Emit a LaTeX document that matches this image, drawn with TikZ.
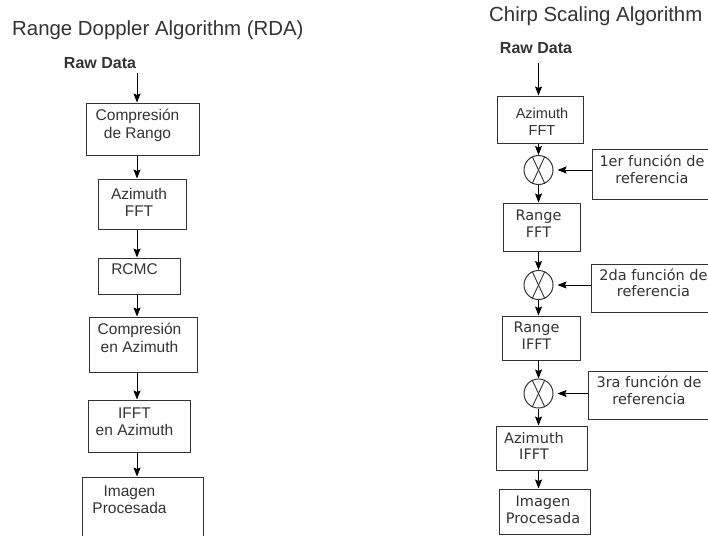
\documentclass[tikz,border=0pt]{standalone}
\usepackage{fontspec}
\setmainfont{Liberation Sans}
\newfontfamily\dejavu{DejaVu Sans}
\usetikzlibrary{arrows.meta}

\definecolor{inkgray}{HTML}{333333}
\tikzset{
    box/.style={draw=inkgray, line width=1pt, inner sep=0pt},
    lbl/.style={text=inkgray, align=center, inner sep=0pt, font=\fontsize{15.5}{17.5}\selectfont},
    lblr/.style={lbl, font=\dejavu\fontsize{14.5}{16.5}\selectfont},
    mult/.style={circle, draw=inkgray, line width=1pt, minimum size=29pt, inner sep=0pt},
    arr/.style={-{Stealth[length=9pt,width=7pt,inset=1.5pt]}, line width=0.9pt},
    title/.style={text=inkgray, inner sep=0pt, font=\fontsize{20.4}{24}\selectfont},
    raw/.style={text=inkgray, inner sep=0pt, font=\bfseries\fontsize{16}{19}\selectfont},
}

\begin{document}
\begin{tikzpicture}[x=1pt, y=-1pt]
    \useasboundingbox (0,0) rectangle (708,535);
    \clip (0,0) rectangle (708,535);
    \fill[white] (0,0) rectangle (708,535);

    % Range Doppler
    \node[title, anchor=base west] (tl) at (12,35) {Range Doppler Algorithm (RDA)};
    \node[raw, anchor=base] (rawl) at (100,68) {Raw Data};
    \coordinate (colL) at (137,0);

    \node[box, minimum width=113pt, minimum height=52pt] (rda1) at (142.5,129) {};
    \node[box, minimum width=88pt, minimum height=50pt] (rda2) at (142,204) {};
    \node[box, minimum width=82pt, minimum height=36pt] (rda3) at (139,276) {};
    \node[box, minimum width=108pt, minimum height=55pt] (rda4) at (143,344.5) {};
    \node[box, minimum width=102pt, minimum height=52pt] (rda5) at (139,426) {};
    \node[box, minimum width=121pt, minimum height=83pt] (rda6) at (142.5,518.5) {};

    \node[lbl] (t1) at (137.5,125.5) {Compresión\\de Rango};
    \node[lbl] (t2) at (139,202.5) {Azimuth\\FFT};
    \node[lbl] (t3) at (134.5,269) {RCMC};
    \node[lbl] (t4) at (139.5,338) {Compresión\\en Azimuth};
    \node[lbl] (t5) at (134.5,421.5) {IFFT\\en Azimuth};
    \node[lbl] (t6) at (129.5,499.5) {Imagen\\Procesada};

    \draw[arr, shorten <=5pt] (rawl.south -| colL) -- (rda1.north -| colL);
    \foreach \a/\b in {rda1/rda2, rda2/rda3, rda3/rda4, rda4/rda5, rda5/rda6} {
        \draw[arr] (\a.south -| colL) -- (\b.north -| colL);
    }

    % Chirp Scaling
    \node[title, anchor=base west] (tr) at (489,22) {Chirp Scaling Algorithm};
    \node[raw, anchor=base] (rawr) at (536,53) {Raw Data};
    \coordinate (colR) at (538.5,0);

    \node[box, minimum width=86pt, minimum height=47pt] (csa1) at (540,119.5) {};
    \node[mult] (mult1) at (538.5,170) {};
    \node[box, minimum width=77pt, minimum height=48pt] (csa2) at (541.5,227) {};
    \node[mult] (mult2) at (538.5,285) {};
    \node[box, minimum width=78pt, minimum height=44pt] (csa3) at (541,338) {};
    \node[mult] (mult3) at (538.5,393.5) {};
    \node[box, minimum width=91pt, minimum height=44pt] (csa4) at (541.5,448) {};
    \node[box, minimum width=91pt, minimum height=45pt] (csa5) at (544.5,511.5) {};

    \node[box, minimum width=148pt, minimum height=50pt] (ref1) at (666,174) {};
    \node[box, minimum width=149pt, minimum height=48pt] (ref2) at (665.5,288) {};
    \node[box, minimum width=152pt, minimum height=48pt] (ref3) at (664,395) {};

    \foreach \m in {mult1, mult2, mult3} {
        \draw[inkgray, line width=0.9pt] (\m.115) -- (\m.-65);
        \draw[inkgray, line width=0.9pt] (\m.65) -- (\m.-115);
    }

    \node[lbl, font=\fontsize{14.5}{16.5}\selectfont] (s1) at (542,121.5) {Azimuth\\FFT};
    \node[lblr] (s2) at (538.5,223.5) {Range\\FFT};
    \node[lblr] (s3) at (536.5,335.5) {Range\\IFFT};
    \node[lblr] (s4) at (534,446) {Azimuth\\IFFT};
    \node[lblr] (s5) at (543,510) {Imagen\\Procesada};
    \node[lblr] (r1) at (652,169.5) {1er función de\\referencia};
    \node[lblr] (r2) at (653.5,283) {2da función de\\referencia};
    \node[lblr] (r3) at (649,390.5) {3ra función de\\referencia};

    \draw[arr, shorten <=10pt] (rawr.south -| colR) -- (csa1.north -| colR);
    \foreach \a/\b in {csa1/mult1, mult1/csa2, csa2/mult2, mult2/csa3, csa3/mult3, mult3/csa4, csa4/csa5} {
        \draw[arr] (\a.south -| colR) -- (\b.north -| colR);
    }
    \foreach \r/\m in {ref1/mult1, ref2/mult2, ref3/mult3} {
        \draw[arr, shorten >=4pt] (\r.west |- \m) -- (\m.east);
    }
\end{tikzpicture}
\end{document}
